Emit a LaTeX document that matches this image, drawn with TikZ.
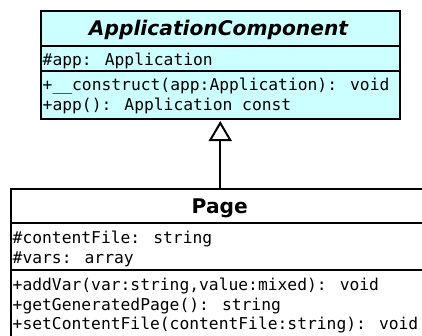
\documentclass[tikz,border=0pt]{standalone}
\usepackage{fontspec}
\newfontfamily\monof{DejaVu Sans Mono}
\newfontfamily\titlef{DejaVu Sans}
\usetikzlibrary{arrows.meta}
\definecolor{clsfill}{RGB}{204,255,255}
\tikzset{
  clsbox/.style={draw=black, line width=2pt, rectangle, inner sep=0pt, anchor=north west},
  member/.style={anchor=base west, inner sep=0pt, font=\monof\fontsize{16.3}{20}\selectfont},
  clstitle/.style={anchor=base, inner sep=0pt, font=\titlef\fontsize{20.2}{24}\selectfont\bfseries},
  sepline/.style={line width=2pt},
  inherit/.style={line width=2pt, -{Triangle[open, length=20pt, width=23pt, line width=2pt]}}
}
\begin{document}
\begin{tikzpicture}[x=1pt, y=-1pt]
\useasboundingbox (0,0) rectangle (422,335);
\begin{scope}
\clip (0,0) rectangle (422,335);
% ApplicationComponent
\node[clsbox, fill=clsfill, minimum width=359.5pt, minimum height=108pt] (ac) at (39.5,10) {};
\draw[sepline] (ac.north west |- 0,46) coordinate (acs1) -- (ac.north east |- 0,46) coordinate (acs1e);
\draw[sepline] (ac.north west |- 0,71) coordinate (acs2) -- (ac.north east |- 0,71) coordinate (acs2e);
\node[clstitle] (actitle) at (218.5,35) {\itshape ApplicationComponent};
\node[member] (aca1) at (42.5,65) {\#app: Application};
\node[member] (acm1) at (42.5,90) {+\_\_construct(app:Application): void};
\node[member] (acm2) at (42.5,110) {+app(): Application const};
% Page
\node[clsbox, fill=white, minimum width=421pt, minimum height=170pt] (pg) at (9.5,188) {};
\draw[sepline] (pg.north west |- 0,223) coordinate (pgs1) -- (pg.north east |- 0,223) coordinate (pgs1e);
\draw[sepline] (pg.north west |- 0,270) coordinate (pgs2) -- (pg.north east |- 0,270) coordinate (pgs2e);
\node[clstitle] (pgtitle) at (219.75,213) {Page};
\node[member] (pga1) at (12.5,243) {\#contentFile: string};
\node[member] (pga2) at (12.5,263) {\#vars: array};
\node[member] (pgm1) at (12.5,290) {+addVar(var:string,value:mixed): void};
\node[member] (pgm2) at (12.5,310) {+getGeneratedPage(): string};
\node[member] (pgm3) at (12.5,329) {+setContentFile(contentFile:string): void};
\end{scope}
\draw[inherit] (ac.south |- pg.north) -- ([yshift=-1pt]ac.south);
\end{tikzpicture}
\end{document}
